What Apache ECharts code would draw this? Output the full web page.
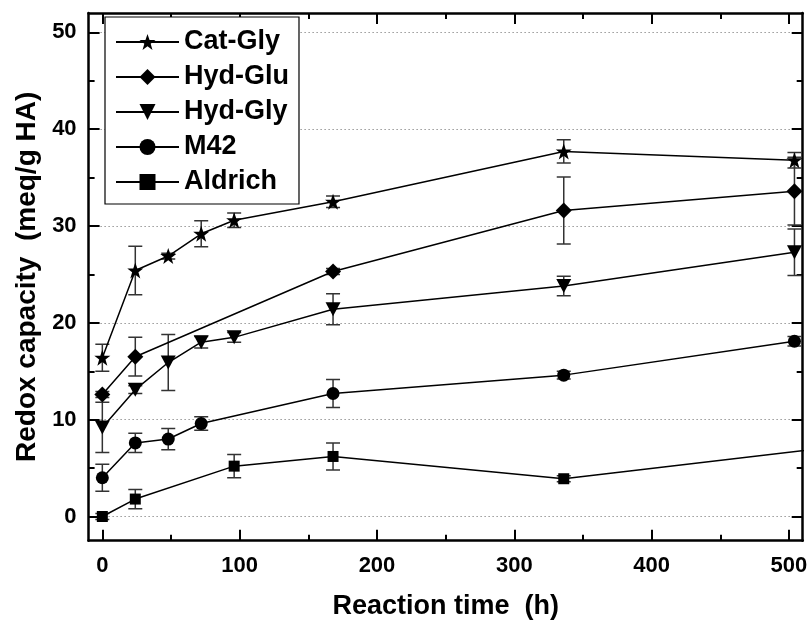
<!DOCTYPE html>
<html><head><meta charset="utf-8">
<script src="https://cdn.jsdelivr.net/npm/echarts@6/dist/echarts.min.js"></script>
<style>html,body{margin:0;padding:0;background:#fff}#c{width:811px;height:622px}</style>
</head><body><div id="c"></div>
<script>
const seriesNames = ['Cat-Gly', 'Hyd-Glu', 'Hyd-Gly', 'M42', 'Aldrich'];

const catGlyX = [0, 24, 48, 72, 96, 168, 336, 504];
const catGlyY = [16.4, 25.4, 26.9, 29.2, 30.6, 32.5, 37.7, 36.8];
const catGlyErr = [1.4, 2.5, 0.3, 1.35, 0.75, 0.6, 1.2, 0.8];

const hydGluX = [0, 24, 168, 336, 504];
const hydGluY = [12.6, 16.5, 25.3, 31.6, 33.6];
const hydGluErr = [0.3, 2.0, 0.3, 3.45, 3.5];

const hydGlyX = [0, 24, 48, 72, 96, 168, 336, 504];
const hydGlyY = [9.2, 13.1, 15.9, 18.0, 18.5, 21.4, 23.8, 27.3];
const hydGlyErr = [2.6, 0.4, 2.9, 0.6, 0.5, 1.6, 1.0, 2.4];

const m42X = [0, 24, 48, 72, 168, 336, 504];
const m42Y = [4.0, 7.6, 8.0, 9.6, 12.7, 14.6, 18.1];
const m42Err = [1.4, 1.0, 1.1, 0.7, 1.45, 0.4, 0.5];

const aldrichX = [0, 24, 96, 168, 336, 672];
const aldrichY = [0.0, 1.8, 5.2, 6.2, 3.9, 9.5];
const aldrichErr = [0.3, 1.0, 1.2, 1.4, 0.3, 0];

const xMajorTicks = [0, 100, 200, 300, 400, 500];
const xMinorTicks = [50, 150, 250, 350, 450];
const yMajorTicks = [0, 10, 20, 30, 40, 50];
const yMinorTicks = [5, 15, 25, 35, 45];

const xTitle = 'Reaction time  (h)';
const yTitle = 'Redox capacity  (meq/g HA)';

const FONT = 'Liberation Sans';
const X_MIN = -10, X_MAX = 510, Y_MIN = -2.5, Y_MAX = 52;

const STAR = 'path://M12,0 L14.9,8.3 L23.4,8.3 L16.5,13.5 L19.1,22 L12,16.8 L4.9,22 L7.5,13.5 L0.6,8.3 L9.1,8.3 Z';
const TRI_DOWN = 'path://M0,0 L10,0 L5,9 Z';

const symbols = [STAR, 'diamond', TRI_DOWN, 'circle', 'rect'];
const symbolSizes = [16, 16, [15, 14], 13, 11];
const xs = [catGlyX, hydGluX, hydGlyX, m42X, aldrichX];
const ys = [catGlyY, hydGluY, hydGlyY, m42Y, aldrichY];
const errs = [catGlyErr, hydGluErr, hydGlyErr, m42Err, aldrichErr];

function errRender(params, api) {
  const x = api.value(0), lo = api.value(1), hi = api.value(2);
  const pHi = api.coord([x, hi]), pLo = api.coord([x, lo]);
  const hw = 7;
  const style = { stroke: '#333', lineWidth: 1.5, fill: null };
  return {
    type: 'group', children: [
      { type: 'line', shape: { x1: pHi[0], y1: pHi[1], x2: pLo[0], y2: pLo[1] }, style: style },
      { type: 'line', shape: { x1: pHi[0] - hw, y1: pHi[1], x2: pHi[0] + hw, y2: pHi[1] }, style: style },
      { type: 'line', shape: { x1: pLo[0] - hw, y1: pLo[1], x2: pLo[0] + hw, y2: pLo[1] }, style: style }
    ]
  };
}

const series = [];
seriesNames.forEach(function (name, i) {
  series.push({
    name: name + ' error',
    type: 'custom',
    renderItem: errRender,
    xAxisIndex: 0, yAxisIndex: 0,
    encode: { x: 0, y: [1, 2] },
    clip: true,
    z: 2,
    silent: true,
    data: xs[i].map(function (x, k) { return [x, ys[i][k] - errs[i][k], ys[i][k] + errs[i][k]]; })
  });
});
seriesNames.forEach(function (name, i) {
  series.push({
    name: name,
    type: 'line',
    xAxisIndex: 0, yAxisIndex: 0,
    symbol: symbols[i],
    symbolSize: symbolSizes[i],
    showAllSymbol: true,
    clip: true,
    z: 3,
    lineStyle: { color: '#000', width: 1.5 },
    itemStyle: { color: '#000' },
    data: xs[i].map(function (x, k) { return [x, ys[i][k]]; })
  });
});

const axisLineStyle = { show: true, onZero: false, lineStyle: { color: '#000', width: 2.5 } };
const labelStyle = { fontFamily: FONT, fontWeight: 'bold', fontSize: 22, color: '#000' };

function xAx(pos, major, withLabel) {
  const a = {
    type: 'value', gridIndex: 0, position: pos, min: X_MIN, max: X_MAX,
    axisLine: major ? axisLineStyle : { show: false, onZero: false },
    axisTick: { show: true, inside: true, length: major ? 11 : 6, customValues: major ? xMajorTicks : xMinorTicks, lineStyle: { color: '#000', width: 2 } },
    axisLabel: withLabel ? Object.assign({ show: true, margin: 14, customValues: xMajorTicks }, labelStyle) : { show: false },
    splitLine: { show: false },
    minorTick: { show: false }
  };
  if (withLabel) {
    a.name = xTitle;
    a.nameLocation = 'middle';
    a.nameGap = 52;
    a.nameTextStyle = { fontFamily: FONT, fontWeight: 'bold', fontSize: 27, color: '#000' };
  }
  return a;
}
function yAx(pos, major, withLabel, grid) {
  const a = {
    type: 'value', gridIndex: 0, position: pos, min: Y_MIN, max: Y_MAX,
    axisLine: major ? axisLineStyle : { show: false, onZero: false },
    axisTick: { show: true, inside: true, length: major ? 11 : 6, customValues: major ? yMajorTicks : yMinorTicks, lineStyle: { color: '#000', width: 2 } },
    axisLabel: withLabel ? Object.assign({ show: true, margin: 12, customValues: yMajorTicks }, labelStyle) : { show: false },
    splitLine: grid ? { show: true, lineStyle: { color: '#666', width: 1, type: [1, 3] } } : { show: false },
    minorTick: { show: false }
  };
  if (withLabel) {
    a.name = yTitle;
    a.nameLocation = 'middle';
    a.nameGap = 41;
    a.nameTextStyle = { fontFamily: FONT, fontWeight: 'bold', fontSize: 28, color: '#000' };
  }
  return a;
}

const option = {
  animation: false,
  backgroundColor: '#fff',
  grid: { left: 88.6, right: 8.3, top: 13, bottom: 81.3, containLabel: false, outerBoundsMode: 'none' },
  legend: {
    data: seriesNames,
    orient: 'vertical',
    left: 105, top: 17,
    padding: [10, 10, 7, 10],
    itemWidth: 63, itemHeight: 20, itemGap: 5,
    borderColor: '#000', borderWidth: 1.2,
    backgroundColor: '#fff',
    selectedMode: false,
    z: 10,
    textStyle: { fontFamily: FONT, fontWeight: 'bold', fontSize: 27, color: '#000', lineHeight: 30 }
  },
  xAxis: [xAx('bottom', true, true), xAx('bottom', false, false), xAx('top', true, false), xAx('top', false, false)],
  yAxis: [yAx('left', true, true, true), yAx('left', false, false, false), yAx('right', true, false, false), yAx('right', false, false, false)],
  series: series
};

const chart = echarts.init(document.getElementById('c'), null, { renderer: 'canvas' });
chart.setOption(option);
</script>
</body></html>
